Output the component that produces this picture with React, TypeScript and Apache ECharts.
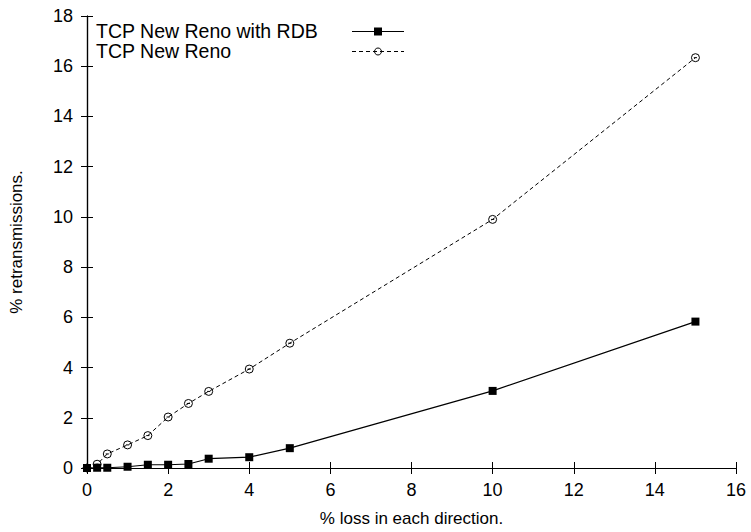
import React, { useEffect, useRef } from "react";
import * as echarts from "echarts";

const lossPct = [0, 0.25, 0.5, 1, 1.5, 2, 2.5, 3, 4, 5, 10, 15];
const rdbRetrans = [0, 0.01, 0.01, 0.05, 0.13, 0.13, 0.16, 0.37, 0.43, 0.79, 3.07, 5.83];
const renoRetrans = [0, 0.15, 0.56, 0.92, 1.29, 2.03, 2.57, 3.05, 3.94, 4.97, 9.9, 16.34];
const seriesNames = ["TCP New Reno with RDB", "TCP New Reno"];
const xTitle = "% loss in each direction.";
const yTitle = "% retransmissions.";

const FONT = "Liberation Sans, Arial, Helvetica, sans-serif";
const circleSym = "path://M0,5 A5,5 0 1 1 10,5 A5,5 0 1 1 0,5 Z M3,5 L7,5";

export default function App() {
  const ref = useRef<HTMLDivElement>(null);
  useEffect(() => {
    document.body.style.margin = "0";
    if (!ref.current) return;
    const chart = echarts.init(ref.current, null, { renderer: "svg" });
    const axisLine = { show: true, lineStyle: { color: "#000", width: 1.2 } };
    const tick = { show: true, inside: true, length: 6, lineStyle: { color: "#000", width: 1 } };
    const label = { color: "#000", fontSize: 18, fontFamily: FONT };
    chart.setOption({
      animation: false,
      backgroundColor: "#fff",
      grid: { left: 87, right: 15, top: 16, bottom: 60, containLabel: false },
      xAxis: [
        {
          type: "value", min: 0, max: 16, interval: 2, position: "bottom",
          axisLine, axisTick: tick, axisLabel: { ...label, margin: 13 }, splitLine: { show: false },
          name: xTitle, nameLocation: "middle", nameGap: 42,
          nameTextStyle: { color: "#000", fontSize: 17, fontFamily: FONT },
        },
        {
          type: "value", min: 0, max: 16, interval: 2, position: "top",
          axisLine, axisTick: tick, axisLabel: { show: false }, splitLine: { show: false },
        },
      ],
      yAxis: [
        {
          type: "value", min: 0, max: 18, interval: 2, position: "left",
          axisLine, axisTick: tick, axisLabel: { ...label, margin: 14 }, splitLine: { show: false },
          name: yTitle, nameLocation: "middle", nameGap: 62,
          nameTextStyle: { color: "#000", fontSize: 17, fontFamily: FONT },
        },
        {
          type: "value", min: 0, max: 18, interval: 2, position: "right",
          axisLine, axisTick: tick, axisLabel: { show: false }, splitLine: { show: false },
        },
      ],
      series: [
        {
          name: seriesNames[0], type: "line",
          data: lossPct.map((x, i) => [x, rdbRetrans[i]]),
          symbol: "rect", symbolSize: 8,
          itemStyle: { color: "#000" },
          lineStyle: { color: "#000", width: 1.2 },
          z: 3,
        },
        {
          name: seriesNames[1], type: "line",
          data: lossPct.map((x, i) => [x, renoRetrans[i]]),
          symbol: circleSym, symbolSize: 8,
          itemStyle: { color: "none", borderColor: "#000", borderWidth: 1 },
          lineStyle: { color: "#000", width: 1, type: [4, 3] },
          z: 2,
        },
      ],
      graphic: [
        { type: "text", left: 96, top: 21, style: { text: seriesNames[0], fill: "#000", fontSize: 19.5, fontFamily: FONT } },
        { type: "text", left: 96, top: 41, style: { text: seriesNames[1], fill: "#000", fontSize: 19.5, fontFamily: FONT } },
        { type: "line", shape: { x1: 352, y1: 31.5, x2: 404, y2: 31.5 }, style: { stroke: "#000", lineWidth: 1.2 } },
        { type: "rect", shape: { x: 374, y: 27.5, width: 8, height: 8 }, style: { fill: "#000" } },
        { type: "line", shape: { x1: 352, y1: 51.5, x2: 404, y2: 51.5 }, style: { stroke: "#000", lineWidth: 1, lineDash: [4, 3] } },
        { type: "circle", shape: { cx: 378, cy: 51.5, r: 3.5 }, style: { fill: "none", stroke: "#000", lineWidth: 1 } },
      ],
    });
    return () => chart.dispose();
  }, []);
  return <div ref={ref} style={{ position: "absolute", left: 0, top: 0, width: 751, height: 532 }} />;
}
